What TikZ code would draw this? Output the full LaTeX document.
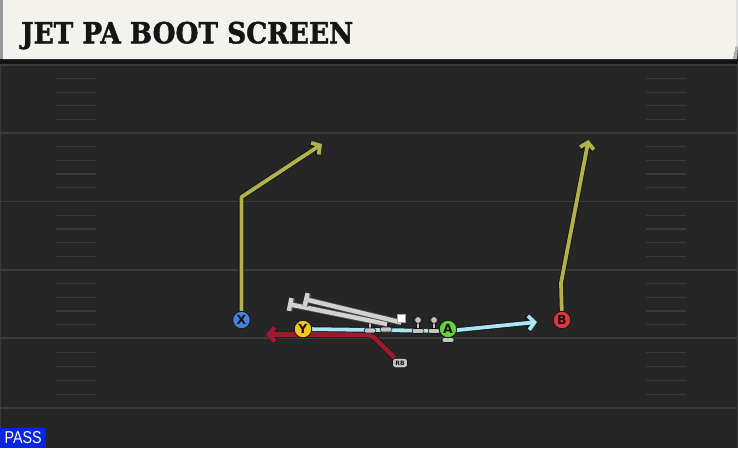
\documentclass[tikz,border=0pt]{standalone}
\usepackage{fontspec}
\usepackage{graphicx}
\usetikzlibrary{arrows.meta}
\newfontfamily\titlefont{DejaVu Serif}[BoldFeatures={FakeBold=1.6}]
\newfontfamily\labelfont{DejaVu Sans}
\newfontfamily\passfont{Liberation Sans}
\pgfdeclarelayer{field}
\pgfdeclarelayer{routes}
\pgfdeclarelayer{linemen}
\pgfsetlayers{field,routes,linemen,main}
\definecolor{fieldc}{HTML}{262626}
\definecolor{fline}{HTML}{3B3B3B}
\definecolor{hashc}{HTML}{3A3A3A}
\definecolor{cream}{HTML}{F4F2EC}
\definecolor{olive}{HTML}{B3B14B}
\definecolor{sky}{HTML}{A9E6F3}
\definecolor{crim}{HTML}{9C1A30}
\definecolor{bootc}{HTML}{D2D2D2}
\definecolor{pawnc}{HTML}{C4C4C4}
\definecolor{outl}{HTML}{151515}
\definecolor{xblue}{HTML}{4A80DA}
\definecolor{yyel}{HTML}{F2C61F}
\definecolor{agrn}{HTML}{66D23A}
\definecolor{bred}{HTML}{E0353E}
\definecolor{passblue}{HTML}{0B26E3}
\tikzset{
  fieldline/.style={draw=fline, line width=1.8pt},
  hashst/.style={draw=hashc, line width=1.3pt},
  player/.style={circle, minimum size=17.5pt, inner sep=0pt, draw=outl, line width=0.8pt,
    font=\labelfont\bfseries\fontsize{12.5}{12.5}\selectfont, text=outl},
  rbst/.style={rectangle, rounded corners=3pt, minimum width=15pt, minimum height=9.5pt, inner sep=0pt,
    fill=pawnc, draw=outl, line width=0.7pt, font=\labelfont\bfseries\fontsize{6}{6}\selectfont, text=outl},
  centerst/.style={rectangle, minimum width=8pt, minimum height=8.5pt, inner sep=0pt, fill=white, draw=gray!70, line width=0.5pt},
  titlest/.style={anchor=base west, inner sep=0pt},
  rtip/.style={-{Straight Barb[length=6pt,width=14pt]}},
  rout/.style={draw=outl, line width=5.6pt, line join=round, rtip},
  rin/.style={line width=3.8pt, line join=round, rtip},
  btip/.style={-{Bar[width=13pt]}},
  bout/.style={draw=black!70, line width=6pt, btip},
  bin/.style={draw=bootc, line width=4.4pt, btip},
  pawn/.pic={
    \filldraw[fill=pawnc, draw=outl, line width=0.6pt] (-1.6,2) rectangle (1.6,9.5);
    \filldraw[fill=pawnc, draw=outl, line width=0.6pt, rounded corners=1.5pt] (-5.8,8.5) rectangle (5.8,13.5);
    \filldraw[fill=pawnc, draw=outl, line width=0.6pt] (0,0) circle (3.4);
  }
}
\begin{document}
\begin{tikzpicture}[x=1pt,y=-1pt]
\useasboundingbox (0,0) rectangle (738,448);

% ---------- main layer: nodes ----------
\node[player, fill=xblue] (X) at (241.5,320) {X};
\node[player, fill=yyel] (Y) at (303,329) {Y};
\node[player, fill=agrn] (A) at (448,329) {A};
\node[player, fill=bred] (B) at (562,320) {B};
\node[rbst] (RB) at (400,363) {RB};
\node[centerst] (C) at (401.3,318) {};
\node[titlest, text=outl] (title) at (21,43.3)
  {\resizebox{332pt}{21.6pt}{\titlefont\bfseries JET PA BOOT SCREEN}};
\node[anchor=south west, fill=passblue, inner sep=0pt, minimum width=46pt, minimum height=20pt, text=white] (pass) at (0,448)
  {\resizebox{37pt}{12pt}{\passfont PASS}};

% ---------- field ----------
\begin{pgfonlayer}{field}
\fill[fieldc] (0,0) rectangle (738,448);
\foreach \yy in {65,133,201.5,270,338.3,408.3} \draw[fieldline] (0,\yy) -- (738,\yy);
\foreach \a/\b in {65/133,133/201.5,201.5/270,270/338.3,338.3/408.3}
  \foreach \f in {0.2,0.4,0.6,0.8} {
    \draw[hashst] (56,{\a+\f*(\b-\a)}) -- (96,{\a+\f*(\b-\a)});
    \draw[hashst] (646,{\a+\f*(\b-\a)}) -- (686,{\a+\f*(\b-\a)});
  }
\draw[fline, line width=1.2pt] (0.6,60) -- (0.6,448);
\draw[fline, line width=1.2pt] (737.4,60) -- (737.4,448);
% title bar
\fill[black!92] (0,59) rectangle (738,64);
\fill[gray!80!white] (0,0) rectangle (3,59);
\fill[gray!25] (736,0) rectangle (738,47);
\fill[cream] (3,0) -- (736,0) -- (736,46) -- (733,59) -- (3,59) -- cycle;
\fill[gray!60] (736,46) -- (738,47) -- (737,59) -- (733,59) -- cycle;
\end{pgfonlayer}

% ---------- routes ----------
\begin{pgfonlayer}{routes}
\coordinate (xc) at (241.5,197);
\coordinate (xe) at (322,144);
\coordinate (bc) at (561,283);
\coordinate (be) at (588.5,140);
\coordinate (rc) at (371,334.5);
\coordinate (re) at (266,334.5);
\coordinate (ka) at (448,331);
\coordinate (se) at (537,322);
\draw[rout] (X) -- (xc) -- (xe);
\draw[rin, draw=olive] (X) -- (xc) -- (xe);
\draw[rout] (B) -- (bc) -- (be);
\draw[rin, draw=olive] (B) -- (bc) -- (be);
\draw[rout, line width=6pt, rounded corners=6pt] (RB) -- (rc) -- (re);
\draw[rin, draw=crim, line width=4.6pt, rounded corners=6pt] (RB) -- (rc) -- (re);
\draw[rout] (Y) -- (ka) -- (se);
\draw[rin, draw=sky] (Y) -- (ka) -- (se);
\end{pgfonlayer}

% ---------- linemen ----------
\begin{pgfonlayer}{linemen}
\pic (lt) at (370,319.5) {pawn};
\pic (lg) at (386,318.5) {pawn};
\pic (rg) at (418,320) {pawn};
\pic (rt) at (434,320) {pawn};
\pic (aa) at (448,329) {pawn};
\coordinate (g1) at (387,324);
\coordinate (b1) at (288,304);
\coordinate (b2) at (304,299);
\draw[bout] (g1) -- (b1);
\draw[bin] (g1) -- (b1);
\draw[bout] (C.south) -- (b2);
\draw[bin] (C.south) -- (b2);
\end{pgfonlayer}
\end{tikzpicture}
\end{document}
